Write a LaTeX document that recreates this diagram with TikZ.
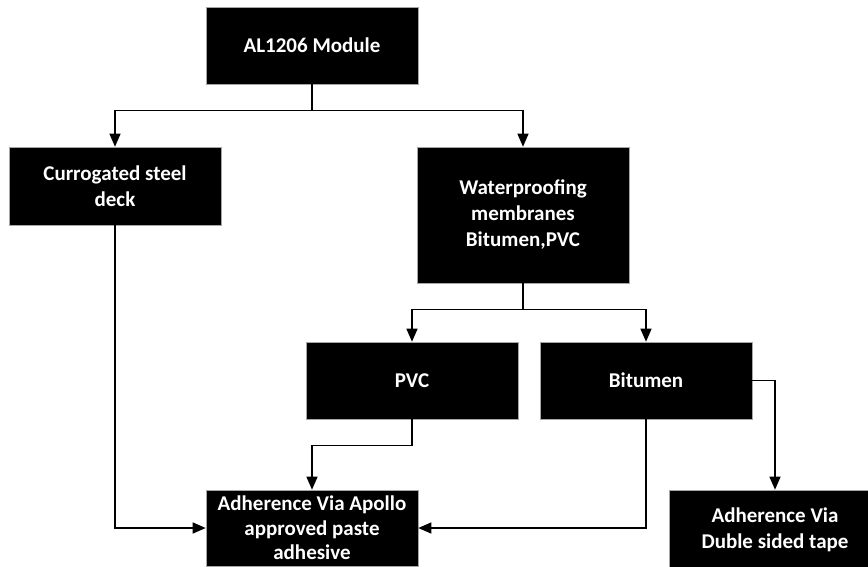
\documentclass[tikz,border=0pt]{standalone}
\usepackage{fontspec}
\setmainfont{Carlito}
\usepackage{tikz}
\usetikzlibrary{positioning, arrows.meta, calc}

\begin{document}
\begin{tikzpicture}[x=1pt, y=-1pt,
        blk/.style={rectangle, draw=gray!70, line width=0.6pt, fill=black, text=white, align=center,
            minimum width=212pt, minimum height=77pt, inner sep=2pt,
            font=\fontsize{21}{26}\selectfont\bfseries},
        conn/.style={line width=1.4pt, -{Triangle[width=11pt, length=13pt]}}]

        \clip (0,0) rectangle (868,566);
        \fill[white] (0,0) rectangle (868,566);

        % Top level
        \node[blk] (mod) at (312,45.5) {AL1206 Module};

        % Substrates
        \node[blk, minimum height=78pt] (deck) at (115,186) {Currogated steel\\deck};
        \node[blk, minimum height=136pt] (wpm) at (523,215) {Waterproofing\\membranes\\Bitumen,PVC};

        % Membranes
        \node[blk] (pvc) at (412,380.5) {PVC};
        \node[blk] (bit) at (646,380.5) {Bitumen};

        % Adherence
        \node[blk, minimum height=76pt, font=\fontsize{21}{24.5}\selectfont\bfseries] (paste) at (312,528) {Adherence Via Apollo\\approved paste\\adhesive};
        \node[blk, minimum height=80pt] (tape) at (775,530) {Adherence Via\\Duble sided tape};

        \draw[conn] (mod.south) -- ++(0,26) -| (deck.north);
        \draw[conn] (mod.south) -- ++(0,26) -| (wpm.north);
        \draw[conn] (wpm.south) -- ++(0,26) -| (pvc.north);
        \draw[conn] (wpm.south) -- ++(0,26) -| (bit.north);
        \draw[conn] (pvc.south) -- ++(0,26) -| (paste.north);
        \draw[conn] (bit.east) -| (tape.north);
        \draw[conn] (deck.south) |- (paste.west);
        \draw[conn] (bit.south) |- (paste.east);
      \end{tikzpicture}
\end{document}
